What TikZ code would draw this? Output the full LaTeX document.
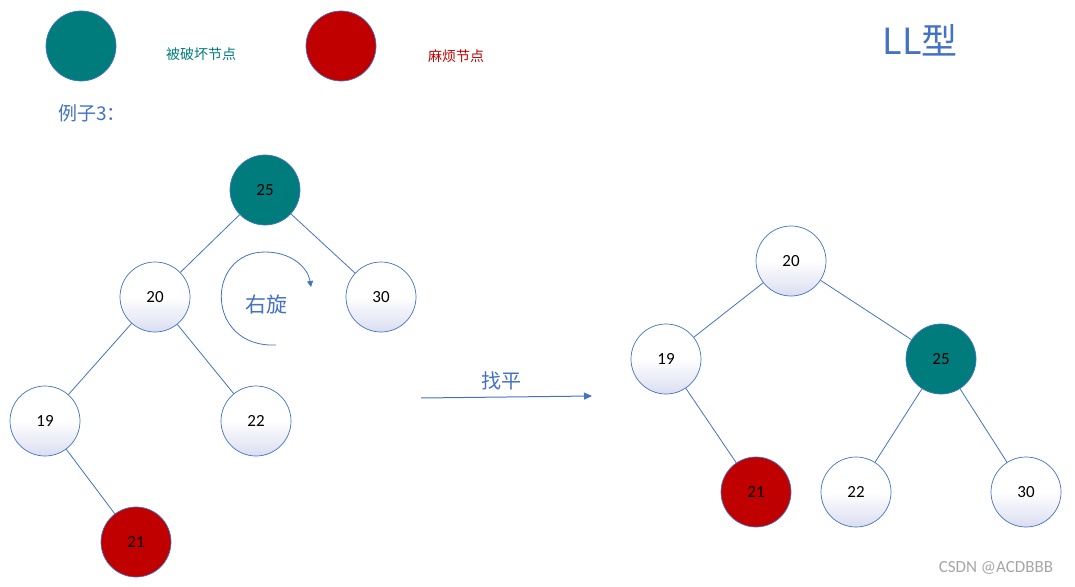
\documentclass[tikz,border=0pt]{standalone}
\usepackage{fontspec}
\setmainfont{Carlito}
\newfontfamily\cjk{Noto Sans CJK SC}
\usetikzlibrary{arrows.meta}
\definecolor{tealc}{HTML}{007C7C}
\definecolor{redc}{HTML}{C00000}
\definecolor{bluec}{HTML}{4472C4}
\definecolor{lav}{HTML}{DADDF0}
\begin{document}
\begin{tikzpicture}[x=1pt,y=-1pt,
  base/.style={circle,draw=bluec,line width=0.7pt,minimum size=70pt,inner sep=0pt,font=\fontsize{17}{20}\selectfont},
  nd/.style={base,top color=white,bottom color=lav,middle color=white},
  tl/.style={base,fill=tealc},
  rd/.style={base,fill=redc},
  ed/.style={bluec,line width=0.8pt}]
\useasboundingbox[fill=white] (0,0) rectangle (1075,586);
\node[tl] (lg1) at (81,46) {};
\node[rd] (lg2) at (341,46) {};
\node[text=tealc,font=\cjk\fontsize{14}{16}\selectfont] (t1) at (201,54) {被破坏节点};
\node[text=redc,font=\cjk\fontsize{14}{16}\selectfont] (t2) at (456,56) {麻烦节点};
\node[text=bluec,font=\cjk\fontsize{36}{40}\selectfont] (ll) at (920,40) {LL型};
\node[text=bluec,font=\cjk\fontsize{19}{22}\selectfont] (ex) at (92,113) {例子3：};
% left tree
\node[tl] (a25) at (265,190) {25};
\node[nd] (a20) at (155,297) {20};
\node[nd] (a30) at (381,297) {30};
\node[nd] (a19) at (45,421) {19};
\node[nd] (a22) at (256,421) {22};
\node[rd] (a21) at (136,542) {21};
\draw[ed] (a25)--(a20); \draw[ed] (a25)--(a30);
\draw[ed] (a20)--(a19); \draw[ed] (a20)--(a22);
\draw[ed] (a19)--(a21);
\coordinate (r1) at (276,345);
\coordinate (r2) at (311,287);
\draw[ed,-{Triangle[length=6pt,width=6pt]}] (r1) .. controls (205,348) and (205,252) .. (265,252) .. controls (292,252) and (308,268) .. (r2);
\node[text=bluec,font=\cjk\fontsize{21}{24}\selectfont] (rot) at (266,305) {右旋};
% arrow
\coordinate (p1) at (421,398);
\coordinate (p2) at (592,396);
\draw[ed,line width=1pt,-{Triangle[length=8pt,width=7pt]}] (p1)--(p2);
\node[text=bluec,font=\cjk\fontsize{20}{23}\selectfont] (zp) at (501,381) {找平};
% right tree
\node[nd] (b20) at (791,261) {20};
\node[nd] (b19) at (666,359) {19};
\node[tl] (b25) at (941,359) {25};
\node[rd] (b21) at (756,492) {21};
\node[nd] (b22) at (856,492) {22};
\node[nd] (b30) at (1026,492) {30};
\draw[ed] (b20)--(b19); \draw[ed] (b20)--(b25);
\draw[ed] (b19)--(b21); \draw[ed] (b25)--(b22); \draw[ed] (b25)--(b30);
\node[text=gray!70,font=\fontsize{17}{20}\selectfont] (wm) at (996,568) {CSDN @ACDBBB};
\end{tikzpicture}
\end{document}
